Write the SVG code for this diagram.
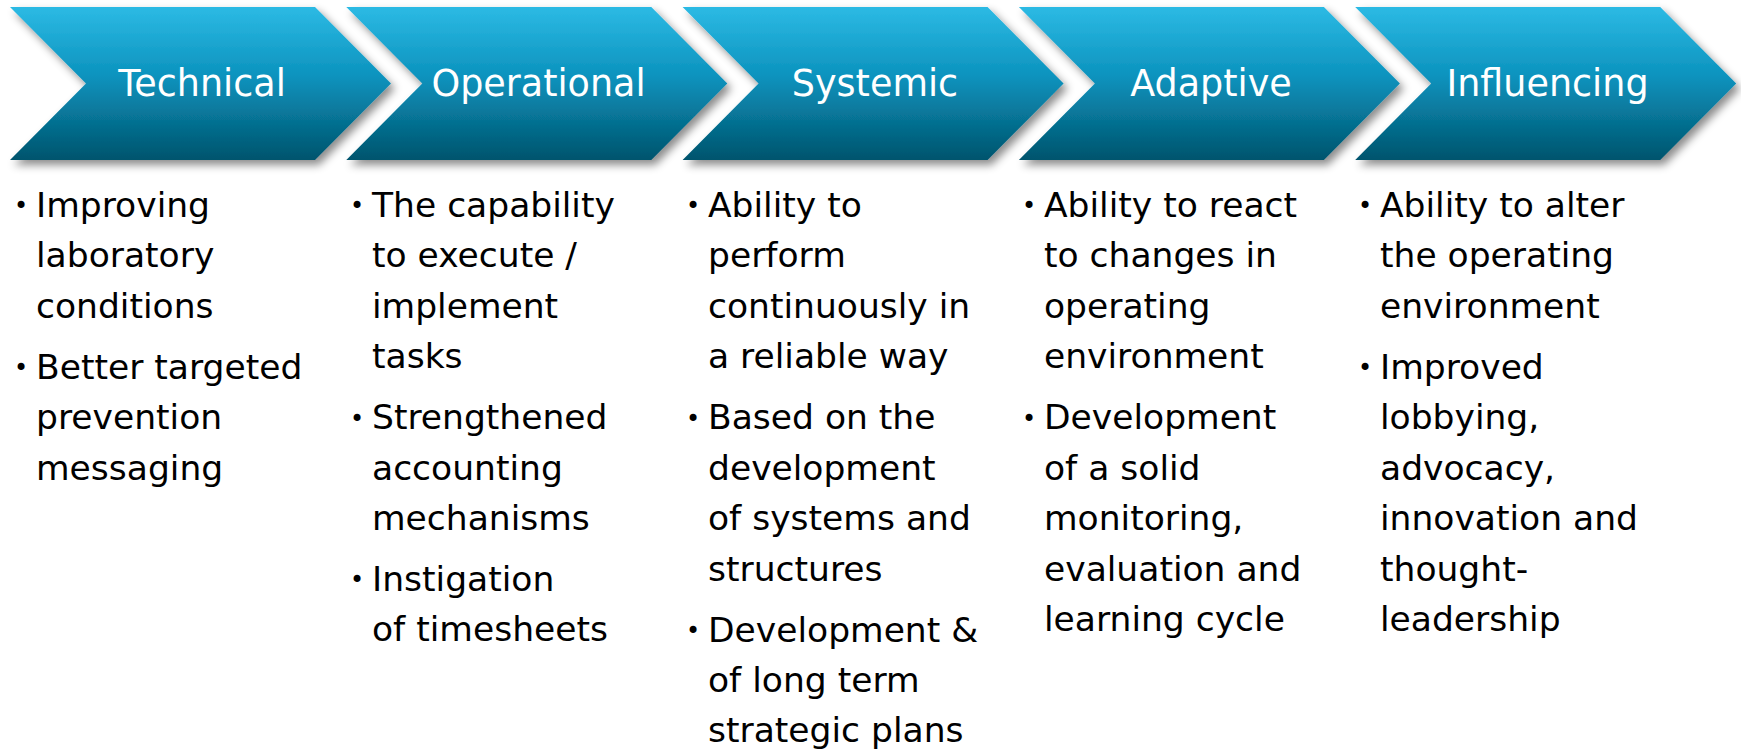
<svg xmlns="http://www.w3.org/2000/svg" width="1741" height="755" viewBox="0 0 1741 755">
  <defs>
    <linearGradient id="chevGrad" x1="0" y1="0" x2="0" y2="1">
      <stop offset="0" stop-color="#2CBAE4"/>
      <stop offset="0.45" stop-color="#0C93BE"/>
      <stop offset="1" stop-color="#01546D"/>
    </linearGradient>
    <filter id="shadow" x="-10%" y="-10%" width="125%" height="130%">
      <feDropShadow dx="4" dy="5" stdDeviation="4" flood-color="#000000" flood-opacity="0.45"/>
    </filter>
    <path id="chev" d="M0,7 L305,7 L381,83.5 L305,160 L0,160 L76,83.5 Z"/>
  </defs>
  <style>
    .chev { fill: url(#chevGrad); filter: url(#shadow); }
    .head { font-family: "DejaVu Sans", Verdana, sans-serif; font-size: 36.5px; fill: #FFFFFF; text-anchor: middle; }
    .body { font-family: "DejaVu Sans", Verdana, sans-serif; font-size: 34.5px; fill: #000000; }
    .bul { font-family: "DejaVu Sans", Verdana, sans-serif; font-size: 24px; fill: #000000; text-anchor: middle; }
  </style>
  <rect width="1741" height="755" fill="#FFFFFF"/>

  <g id="connectors"></g>

  <g id="technical">
    <use href="#chev" class="chev" x="10"/>
    <text class="head" x="202" y="95.5">Technical</text>
    <text class="bul" x="21" y="214">•</text>
    <text class="body" x="36"><tspan x="36" y="216.5">Improving</tspan><tspan x="36" y="267">laboratory</tspan><tspan x="36" y="317.5">conditions</tspan></text>
    <text class="bul" x="21" y="376">•</text>
    <text class="body" x="36"><tspan x="36" y="378.5">Better targeted</tspan><tspan x="36" y="429">prevention</tspan><tspan x="36" y="479.5">messaging</tspan></text>
  </g>

  <g id="operational">
    <use href="#chev" class="chev" x="346.3"/>
    <text class="head" x="538.5" y="95.5">Operational</text>
    <text class="bul" x="357" y="214">•</text>
    <text class="body"><tspan x="372" y="216.5">The capability</tspan><tspan x="372" y="267">to execute /</tspan><tspan x="372" y="317.5">implement</tspan><tspan x="372" y="368">tasks</tspan></text>
    <text class="bul" x="357" y="426.5">•</text>
    <text class="body"><tspan x="372" y="429">Strengthened</tspan><tspan x="372" y="479.5">accounting</tspan><tspan x="372" y="530">mechanisms</tspan></text>
    <text class="bul" x="357" y="588">•</text>
    <text class="body"><tspan x="372" y="590.5">Instigation</tspan><tspan x="372" y="641">of timesheets</tspan></text>
  </g>

  <g id="systemic">
    <use href="#chev" class="chev" x="682.6"/>
    <text class="head" x="875" y="95.5">Systemic</text>
    <text class="bul" x="693" y="214">•</text>
    <text class="body"><tspan x="708" y="216.5">Ability to</tspan><tspan x="708" y="267">perform</tspan><tspan x="708" y="317.5">continuously in</tspan><tspan x="708" y="368">a reliable way</tspan></text>
    <text class="bul" x="693" y="426.5">•</text>
    <text class="body"><tspan x="708" y="429">Based on the</tspan><tspan x="708" y="479.5">development</tspan><tspan x="708" y="530">of systems and</tspan><tspan x="708" y="580.5">structures</tspan></text>
    <text class="bul" x="693" y="639">•</text>
    <text class="body"><tspan x="708" y="641.5">Development &amp;</tspan><tspan x="708" y="692">of long term</tspan><tspan x="708" y="742">strategic plans</tspan></text>
  </g>

  <g id="adaptive">
    <use href="#chev" class="chev" x="1018.9"/>
    <text class="head" x="1211" y="95.5">Adaptive</text>
    <text class="bul" x="1029" y="214">•</text>
    <text class="body"><tspan x="1044" y="216.5">Ability to react</tspan><tspan x="1044" y="267">to changes in</tspan><tspan x="1044" y="317.5">operating</tspan><tspan x="1044" y="368">environment</tspan></text>
    <text class="bul" x="1029" y="426.5">•</text>
    <text class="body"><tspan x="1044" y="429">Development</tspan><tspan x="1044" y="479.5">of a solid</tspan><tspan x="1044" y="530">monitoring,</tspan><tspan x="1044" y="580.5">evaluation and</tspan><tspan x="1044" y="631">learning cycle</tspan></text>
  </g>

  <g id="influencing">
    <use href="#chev" class="chev" x="1355.2"/>
    <text class="head" x="1547.5" y="95.5">Influencing</text>
    <text class="bul" x="1365" y="214">•</text>
    <text class="body"><tspan x="1380" y="216.5">Ability to alter</tspan><tspan x="1380" y="267">the operating</tspan><tspan x="1380" y="317.5">environment</tspan></text>
    <text class="bul" x="1365" y="376">•</text>
    <text class="body"><tspan x="1380" y="378.5">Improved</tspan><tspan x="1380" y="429">lobbying,</tspan><tspan x="1380" y="479.5">advocacy,</tspan><tspan x="1380" y="530">innovation and</tspan><tspan x="1380" y="580.5">thought-</tspan><tspan x="1380" y="631">leadership</tspan></text>
  </g>
</svg>
